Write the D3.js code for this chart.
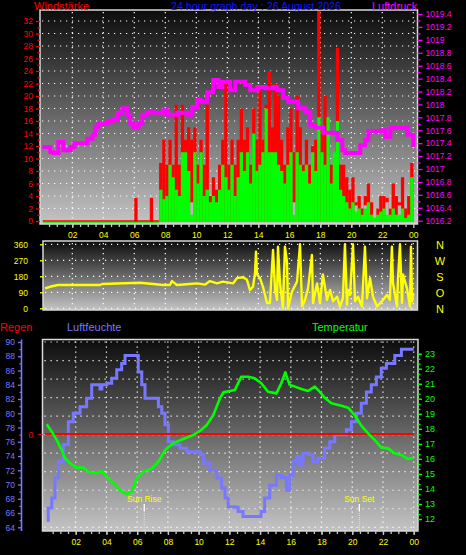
<!DOCTYPE html>
<html><head><meta charset="utf-8">
<script src="https://cdn.jsdelivr.net/npm/d3@7"></script>
<style>body{margin:0;background:#000}svg{display:block}</style>
</head><body>
<svg id="c" width="466" height="555"></svg>
<script>
// ---------- DATA ----------
const titleText = "24 hour graph day : 26 August 2026";
const hourTickValues = [2,4,6,8,10,12,14,16,18,20,22,24];
const hourTickLabels = ["02","04","06","08","10","12","14","16","18","20","22","00"];
const windTicks = [0,2,4,6,8,10,12,14,16,18,20,22,24,26,28,30,32];
const pressureTicks = [1016.2,1016.4,1016.6,1016.8,1017,1017.2,1017.4,1017.6,1017.8,1018,1018.2,1018.4,1018.6,1018.8,1019,1019.2,1019.4];
const dirTicks = [0,90,180,270,360];
const dirLetters = ["N","W","S","O","N"];
const humTicks = [64,66,68,70,72,74,76,78,80,82,84,86,88,90];
const tempTicks = [12,13,14,15,16,17,18,19,20,21,22,23];
const rainTicks = [0];

// pressure [hour, hPa]
const pressure = [[0.06,1017.34],[0.39,1017.34],[0.58,1017.26],[0.77,1017.25],[1.10,1017.42],[1.23,1017.42],[1.42,1017.29],[1.68,1017.29],[1.87,1017.34],[2.13,1017.40],[2.65,1017.40],[2.97,1017.47],[3.16,1017.47],[3.29,1017.53],[3.48,1017.65],[3.68,1017.70],[3.94,1017.70],[4.26,1017.73],[4.58,1017.76],[4.90,1017.87],[5.10,1017.87],[5.23,1017.94],[5.55,1017.84],[5.74,1017.71],[5.94,1017.64],[6.19,1017.64],[6.26,1017.71],[6.52,1017.84],[6.84,1017.88],[7.03,1017.88],[7.23,1017.87],[7.68,1017.87],[7.87,1017.91],[8.13,1017.84],[8.52,1017.84],[8.77,1017.87],[8.97,1017.87],[9.42,1017.84],[9.74,1017.96],[10.06,1018.07],[10.26,1018.04],[10.71,1018.19],[11.10,1018.38],[11.42,1018.27],[11.68,1018.35],[11.87,1018.35],[12.19,1018.22],[12.52,1018.35],[12.84,1018.35],[13.16,1018.30],[13.48,1018.22],[13.94,1018.27],[14.45,1018.25],[14.97,1018.27],[15.23,1018.22],[15.61,1018.10],[15.94,1018.04],[16.52,1018.02],[16.58,1017.94],[17.03,1017.88],[17.35,1017.68],[17.68,1017.64],[18.19,1017.56],[18.65,1017.56],[19.10,1017.45],[19.42,1017.29],[19.61,1017.25],[20.26,1017.25],[20.58,1017.37],[20.90,1017.45],[21.10,1017.59],[21.74,1017.59],[22.0,1017.60],[22.19,1017.50],[22.52,1017.64],[23.35,1017.64],[23.61,1017.53],[24.0,1017.34]];

// wind (12-minute bars from 06:00)
const windStartHour = 6.0;
const windStepHours = 0.2;
const windGust = [3.7,0,0,0,0,3.7,0,0,
 9.3,13,9,13,9,18.6,9,18.6,13,15,
 13,15,9,13,9,18.6,4,7,5,9,
 13,22.6,9,13,9,13,18,13,15,9,
 18,13,21,13,18.6,24,15,22,20,13,
 9,15,18,11,20,15,9,13,9,12,
 13,33.8,15,20,13,9,9,27.7,9,9,
 7,5,7,3,4,2,4,6,3,1,
 2,4,4,3.7,2,6,4,3,7,2,
 4,9.3];
const windAvg = [0,0,0,0,0,0,0,0,
 5,3.5,4,9,7,5,4,11,11,8,
 1,11,6,11,4,5,3,4,3,5,
 9,7,5,9,4,7,11,8,11,6,
 14,8,9,11,18,11,11,11,9,8,
 6,9,11,1,11,9,8,9,6,11,
 8,16.6,11,9,16.6,6,11,16,5,4,
 3,2,3,1.5,2,1,2,3,1,0.5,
 1,1.5,2,1,1,2,1,1,2,0.5,
 1,7];
const windLow = [0,0,0,0,0,0,0,0,
 0,0,0,0,0,0,0,0,0,0,
 3,0,0,0,0,0,0,0,2.5,0,
 0,0,0,0,0,0,0,0,0,0,
 0,0,0,0,0,0,0,0,0,0,
 0,0,0,3,0,0,0,0,0,0,
 0,0,0,0,0,0,0,0,0,0,
 0,0,0,2.5,0,0,2.5,0,0,2,
 0,0,0,3,0,0,0,2.5,0,0,
 0,0];

// wind direction [hour, degrees]
const direction = [[0.24,112],[0.56,121],[1.08,131],[3.79,131],[3.92,137],[6.37,144],[7.21,137],[7.85,131],[8.30,131],[8.43,153],[8.75,131],[9.59,137],[10.05,140],[10.56,133],[10.88,153],[11.34,140],[11.72,150],[12.37,140],[12.63,170],[13.01,175],[13.27,160],[13.46,103],[13.66,121],[13.79,198],[13.85,318],[13.92,190],[14.11,170],[14.30,121],[14.56,30],[14.75,30],[14.95,328],[15.08,103],[15.21,47],[15.27,346],[15.40,140],[15.59,0],[15.72,346],[15.85,262],[15.92,0],[16.17,93],[16.50,150],[16.69,360],[16.82,10],[17.01,47],[17.21,112],[17.46,300],[17.53,30],[17.79,140],[17.98,30],[18.17,190],[18.43,47],[18.63,103],[18.82,40],[19.08,65],[19.27,10],[19.46,56],[19.59,360],[19.72,20],[19.79,103],[19.92,75],[20.11,360],[20.24,40],[20.43,65],[20.69,10],[20.88,346],[21.01,56],[21.21,170],[21.40,65],[21.66,10],[21.98,40],[22.30,75],[22.49,47],[22.62,346],[22.69,140],[22.95,10],[23.01,160],[23.14,360],[23.27,30],[23.34,190],[23.59,112],[23.79,10],[23.85,346],[23.92,40],[24.0,84]];

// temperature [hour, °C]
const temperature = [[0.11,18.30],[0.44,17.81],[0.76,17.26],[1.09,16.59],[1.30,16.04],[1.63,15.71],[2.06,15.42],[2.49,15.42],[2.82,15.15],[3.37,15.04],[3.69,15.20],[4.02,14.82],[4.45,14.38],[4.88,13.93],[5.32,13.64],[5.64,13.82],[5.97,14.71],[6.40,15.15],[6.95,15.37],[7.38,15.81],[7.81,16.59],[8.35,17.04],[9.00,17.32],[9.65,17.59],[10.09,17.86],[10.53,18.26],[10.96,18.92],[11.39,20.03],[11.61,20.43],[12.04,20.52],[12.35,20.58],[12.78,21.47],[13.22,21.47],[13.65,21.36],[14.08,21.03],[14.52,20.47],[15.06,20.36],[15.38,21.03],[15.64,21.76],[15.93,20.92],[16.26,20.81],[16.69,20.65],[17.12,20.52],[17.56,20.81],[17.88,20.47],[18.21,20.07],[18.64,19.70],[19.29,19.54],[19.73,19.41],[20.16,18.92],[20.59,18.21],[21.03,17.70],[21.46,17.26],[21.89,16.75],[22.33,16.70],[22.77,16.37],[23.20,16.26],[23.63,15.99],[24.0,16.08]];

// humidity [hour, %]
const humidity = [[0.11,65.0],[0.21,66.7],[0.44,68.1],[0.65,70.9],[0.87,73.2],[1.19,75.6],[1.52,78.8],[1.84,80.0],[2.28,80.9],[2.71,82.1],[3.04,84.0],[3.58,83.4],[3.70,84.0],[4.02,84.2],[4.34,84.9],[4.67,86.1],[4.99,87.0],[5.21,88.1],[5.86,88.1],[6.07,85.8],[6.30,84.0],[6.51,82.1],[7.16,82.1],[7.38,80.9],[7.60,80.0],[7.81,78.4],[8.03,76.0],[8.35,75.6],[8.79,75.1],[9.23,74.6],[10.09,74.2],[10.31,73.0],[10.74,72.0],[11.18,70.9],[11.50,69.5],[11.72,68.1],[11.93,66.9],[12.37,66.8],[12.57,66.2],[12.89,65.5],[13.67,65.5],[14.06,66.2],[14.30,68.1],[14.63,69.9],[15.06,71.3],[15.38,71.0],[15.71,69.2],[15.93,71.3],[16.15,73.2],[16.36,73.9],[16.58,72.7],[16.80,74.4],[17.12,74.2],[17.45,73.2],[17.77,73.7],[18.21,75.1],[18.54,76.0],[18.86,77.0],[19.62,77.7],[19.94,78.8],[20.27,80.0],[20.59,81.4],[20.92,83.0],[21.24,84.0],[21.57,85.1],[21.89,86.3],[22.22,87.0],[22.77,88.1],[23.20,89.0],[24.0,89.0]];

// rain [hour, mm]
const rain = [[0,0],[24,0]];
const sunEvents = [{label:"Sun Rise", hour:6.46},{label:"Sun Set", hour:20.46}];

// ---------- DRAW ----------
const svg = d3.select("#c");
const FONT = "'Liberation Sans', Arial, sans-serif";
const defs = svg.append("defs");
const grad = defs.append("linearGradient").attr("id","bg").attr("x1",0).attr("y1",0).attr("x2",0).attr("y2",1);
grad.append("stop").attr("offset","0%").attr("stop-color","#0c0c0c");
grad.append("stop").attr("offset","100%").attr("stop-color","#c4c4c4");

const topF = {x0:40, y0:10, x1:417.5, y1:224};
const midF = {x0:43, y0:241, x1:417.5, y1:310};
const botF = {x0:42.5, y0:339.5, x1:418, y1:531};

function panelBg(f, id){
  svg.append("rect").attr("x",f.x0).attr("y",f.y0).attr("width",f.x1-f.x0).attr("height",f.y1-f.y0).attr("fill","url(#bg)");
  defs.append("clipPath").attr("id",id).append("rect").attr("x",f.x0).attr("y",f.y0).attr("width",f.x1-f.x0).attr("height",f.y1-f.y0);
}
function panelBorder(f){
  svg.append("rect").attr("x",f.x0).attr("y",f.y0).attr("width",f.x1-f.x0).attr("height",f.y1-f.y0)
    .attr("fill","none").attr("stroke","#d8d8d8").attr("stroke-width",1.5);
}
function hGrid(f, ys){
  svg.append("g").selectAll("line").data(ys).join("line")
    .attr("x1",f.x0+2).attr("x2",f.x1-2).attr("y1",d=>d).attr("y2",d=>d)
    .attr("stroke","#fff").attr("stroke-width",1.2).attr("stroke-dasharray","1.2,4.8");
}
function vGrid(f, xs){
  svg.append("g").selectAll("line").data(xs).join("line")
    .attr("x1",d=>d).attr("x2",d=>d).attr("y1",f.y0+2).attr("y2",f.y1-2)
    .attr("stroke","#fff").attr("stroke-width",1.2).attr("stroke-dasharray","1.2,3.8");
}
function styleAxis(g, color, size){
  g.select(".domain").remove();
  g.selectAll("line").attr("stroke",color).attr("stroke-width",1.3);
  g.selectAll("text").attr("fill",color).attr("font-family",FONT).attr("font-size",size);
}

// scales
const xTop = d3.scaleLinear([0,24],[41.3,413.3]);
const yWind = d3.scaleLinear([0,32],[221,21]);
const yPress = d3.scaleLinear([1016.2,1019.4],[220.7,14]);
const yDir = d3.scaleLinear([0,360],[308.3,244.3]);
const xBot = d3.scaleLinear([0,24],[45,413.7]);
const yHum = d3.scaleLinear([64,90],[527.3,342]);
const yTemp = d3.scaleLinear([12,23],[519,353.7]);
const yRain = d3.scaleLinear([0,1],[434,420]);

// ===== TOP PANEL =====
panelBg(topF,"clipTop");
hGrid(topF, windTicks.filter(d=>d>0).map(yWind));
vGrid(topF, hourTickValues.map(xTop));
const gTop = svg.append("g").attr("clip-path","url(#clipTop)");
const bw = xTop(windStepHours)-xTop(0);
function bars(vals, color){
  gTop.append("g").selectAll("rect").data(vals.map((v,i)=>({h:windStartHour+i*windStepHours,v})).filter(d=>d.v>0)).join("rect")
    .attr("x",d=>xTop(d.h)).attr("width",bw+0.2)
    .attr("y",d=>yWind(d.v)).attr("height",d=>yWind(0)-yWind(d.v)+1)
    .attr("fill",color);
}
// calm baseline before the bars
gTop.append("line").attr("x1",xTop(0.1)).attr("x2",xTop(windStartHour+8*windStepHours)).attr("y1",yWind(0)).attr("y2",yWind(0)).attr("stroke","#ff0000").attr("stroke-width",1.3);
gTop.append("line").attr("x1",xTop(0.1)).attr("x2",xTop(windStartHour+8*windStepHours)).attr("y1",yWind(0)+2).attr("y2",yWind(0)+2).attr("stroke","#00ff00").attr("stroke-width",1.3);
bars(windGust,"#ff0000");
bars(windLow,"#b8b8b8");
bars(windAvg,"#00ff00");
gTop.append("path").datum(pressure)
  .attr("d",d3.line().x(d=>xTop(d[0])).y(d=>yPress(d[1])).curve(d3.curveStepAfter))
  .attr("fill","none").attr("stroke","#ff00ff").attr("stroke-width",4);
panelBorder(topF);

// top axes
svg.append("g").attr("transform",`translate(${topF.x0},0)`)
  .call(d3.axisLeft(yWind).tickValues(d3.range(1,33,2)).tickSize(2.5).tickFormat(""))
  .call(g=>styleAxis(g,"#ff0000",8.5));
svg.append("g").attr("transform",`translate(${topF.x0},0)`)
  .call(d3.axisLeft(yWind).tickValues(windTicks).tickSize(4).tickPadding(3))
  .call(g=>styleAxis(g,"#ff0000",8.5));
svg.append("g").attr("transform",`translate(${topF.x1},0)`)
  .call(d3.axisRight(yPress).tickValues(d3.range(1016.3,1019.4,0.2)).tickSize(3).tickFormat(""))
  .call(g=>styleAxis(g,"#ff00ff",8.5));
svg.append("g").attr("transform",`translate(${topF.x1},0)`)
  .call(d3.axisRight(yPress).tickValues(pressureTicks).tickSize(5).tickPadding(3).tickFormat(d=>d3.format(".1f")(d).replace(/\.0$/,"")))
  .call(g=>styleAxis(g,"#ff00ff",8.5));
svg.append("g").attr("transform",`translate(0,${topF.y1})`)
  .call(d3.axisBottom(xTop).tickValues(d3.range(0.5,24,0.5)).tickSize(3).tickFormat(""))
  .call(g=>styleAxis(g,"#c8c8c8",8.5));
svg.append("g").attr("transform",`translate(0,${topF.y1})`)
  .call(d3.axisBottom(xTop).tickValues(hourTickValues).tickSize(4).tickPadding(4).tickFormat((d,i)=>hourTickLabels[i]))
  .call(g=>styleAxis(g,"#ffff00",8.5))
  .call(g=>g.selectAll("line").attr("stroke","#c8c8c8"));

// titles
svg.append("text").attr("x",34).attr("y",9.5).attr("fill","#ff0000").attr("font-family",FONT).attr("font-size",11).text("Windstärke");
svg.append("text").attr("x",256).attr("y",9.5).attr("text-anchor","middle").attr("fill","#1414ff").attr("font-family",FONT).attr("font-size",11).attr("textLength",170).attr("lengthAdjust","spacingAndGlyphs").text(titleText);
svg.append("text").attr("x",372).attr("y",9.5).attr("fill","#ff00ff").attr("font-family",FONT).attr("font-size",11).text("Luftdruck");

// ===== MIDDLE PANEL =====
panelBg(midF,"clipMid");
hGrid(midF, dirTicks.map(yDir));
vGrid(midF, hourTickValues.map(xTop));
svg.append("g").attr("clip-path","url(#clipMid)").append("path").datum(direction)
  .attr("d",d3.line().x(d=>xTop(d[0])).y(d=>yDir(d[1])))
  .attr("fill","none").attr("stroke","#ffff00").attr("stroke-width",2.4).attr("stroke-linejoin","round");
panelBorder(midF);
svg.append("g").attr("transform",`translate(${midF.x0},0)`)
  .call(d3.axisLeft(yDir).tickValues(dirTicks).tickSize(3).tickPadding(12))
  .call(g=>styleAxis(g,"#ffff00",8.5));
svg.append("g").selectAll("text").data(dirLetters).join("text")
  .attr("x",440).attr("y",(d,i)=>d3.scaleLinear([0,4],[yDir(360),yDir(0)])(i)+4.5)
  .attr("text-anchor","middle").attr("fill","#ffff00").attr("font-family",FONT).attr("font-size",11).text(d=>d);

// ===== BOTTOM PANEL =====
panelBg(botF,"clipBot");
hGrid(botF, d3.range(0,11).map(k=>yHum(64+2.6*k)));
vGrid(botF, hourTickValues.map(xBot));
const gBot = svg.append("g").attr("clip-path","url(#clipBot)");
// sun markers
sunEvents.forEach(s=>{
  const x = xBot(s.hour);
  gBot.append("line").attr("x1",x).attr("x2",x).attr("y1",504).attr("y2",511).attr("stroke","#fff").attr("stroke-width",1.3);
  gBot.append("line").attr("x1",x).attr("x2",x).attr("y1",511).attr("y2",botF.y1).attr("stroke","#ffff00").attr("stroke-width",1).attr("stroke-dasharray","1,1");
  gBot.append("text").attr("x",x).attr("y",501.5).attr("text-anchor","middle").attr("fill","#ffff00").attr("font-family",FONT).attr("font-size",8.5).text(s.label);
});
gBot.append("path").datum(humidity)
  .attr("d",d3.line().x(d=>xBot(d[0])).y(d=>yHum(d[1])).curve(d3.curveStepAfter))
  .attr("fill","none").attr("stroke","#7878ff").attr("stroke-width",3);
gBot.append("path").datum(rain)
  .attr("d",d3.line().x(d=>xBot(d[0])).y(d=>yRain(d[1])))
  .attr("fill","none").attr("stroke","#ff0000").attr("stroke-width",2);
gBot.append("path").datum(temperature)
  .attr("d",d3.line().x(d=>xBot(d[0])).y(d=>yTemp(d[1])))
  .attr("fill","none").attr("stroke","#00ff00").attr("stroke-width",2.6).attr("stroke-linejoin","round");
panelBorder(botF);

// bottom axes
svg.append("g").attr("transform","translate(22,0)")
  .call(d3.axisLeft(yHum).tickValues(d3.range(65,90,2)).tickSize(2.5).tickFormat(""))
  .call(g=>styleAxis(g,"#7878ff",8.5));
svg.append("g").attr("transform","translate(22,0)")
  .call(d3.axisLeft(yHum).tickValues(humTicks).tickSize(4).tickPadding(3))
  .call(g=>styleAxis(g,"#7878ff",8.5));
svg.append("line").attr("x1",21.5).attr("x2",21.5).attr("y1",botF.y0).attr("y2",botF.y1).attr("stroke","#7878ff").attr("stroke-width",1.6);
svg.append("g").attr("transform",`translate(${botF.x0},0)`)
  .call(d3.axisLeft(yRain).tickValues(rainTicks).tickSize(4).tickPadding(5).tickFormat(d3.format("d")))
  .call(g=>styleAxis(g,"#ff0000",9.5));
svg.append("g").attr("transform",`translate(${botF.x1},0)`)
  .call(d3.axisRight(yTemp).tickValues(d3.range(12,23.01,1/3)).tickSize(2.5).tickFormat(""))
  .call(g=>styleAxis(g,"#00ff00",8.5));
svg.append("g").attr("transform",`translate(${botF.x1},0)`)
  .call(d3.axisRight(yTemp).tickValues(tempTicks).tickSize(4).tickPadding(3))
  .call(g=>styleAxis(g,"#00ff00",9));
svg.append("g").attr("transform",`translate(0,${botF.y1})`)
  .call(d3.axisBottom(xBot).tickValues(d3.range(0.5,24.01,0.5)).tickSize(3).tickFormat(""))
  .call(g=>styleAxis(g,"#c8c8c8",8.5));
svg.append("g").attr("transform",`translate(0,${botF.y1})`)
  .call(d3.axisBottom(xBot).tickValues(hourTickValues).tickSize(4).tickPadding(4).tickFormat((d,i)=>hourTickLabels[i]))
  .call(g=>styleAxis(g,"#ffff00",8.5))
  .call(g=>g.selectAll("line").attr("stroke","#c8c8c8"));

svg.append("text").attr("x",0).attr("y",330.5).attr("fill","#ff0000").attr("font-family",FONT).attr("font-size",11).text("Regen");
svg.append("text").attr("x",67).attr("y",330.5).attr("fill","#7878ff").attr("font-family",FONT).attr("font-size",11).text("Luftfeuchte");
svg.append("text").attr("x",312).attr("y",330.5).attr("fill","#00ff00").attr("font-family",FONT).attr("font-size",11).text("Temperatur");
</script>
</body></html>
